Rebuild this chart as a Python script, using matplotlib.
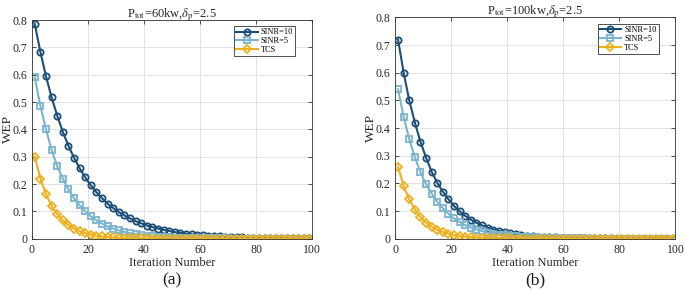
import matplotlib
matplotlib.use('Agg')
import matplotlib.pyplot as plt

plt.rcParams['font.family'] = ['Liberation Serif', 'DejaVu Serif']
plt.rcParams['mathtext.fontset'] = 'stix'

iters = list(range(1, 100, 2))

# (a) Ptot=60kw
a_sinr10 = [0.785, 0.683, 0.594, 0.517, 0.450, 0.391, 0.340, 0.296, 0.258, 0.224,
            0.195, 0.170, 0.148, 0.128, 0.112, 0.097, 0.085, 0.074, 0.064, 0.056,
            0.048, 0.042, 0.037, 0.032, 0.028, 0.024, 0.021, 0.018, 0.016, 0.014,
            0.012, 0.011, 0.009, 0.008, 0.007, 0.006, 0.005, 0.0045, 0.004, 0.0035,
            0.003, 0.0026, 0.0023, 0.002, 0.0017, 0.0015, 0.0013, 0.0011, 0.001, 0.0009]
a_sinr5 = [0.590, 0.485, 0.400, 0.325, 0.265, 0.220, 0.180, 0.148, 0.122, 0.100,
           0.082, 0.067, 0.055, 0.045, 0.037, 0.030, 0.025, 0.020, 0.017, 0.014,
           0.011, 0.009, 0.0075, 0.006, 0.005, 0.004, 0.0033, 0.0027, 0.0022, 0.0018,
           0.0015, 0.0012, 0.001, 0.0008, 0.0007, 0.0006, 0.0005, 0.0004, 0.0003, 0.0003,
           0.0002, 0.0002, 0.0002, 0.0001, 0.0001, 0.0001, 0.0001, 0.0001, 0.0, 0.0]
a_tcs = [0.300, 0.220, 0.163, 0.120, 0.090, 0.067, 0.050, 0.037, 0.028, 0.020,
         0.015, 0.011, 0.008, 0.006, 0.0045, 0.003, 0.0025, 0.0018, 0.0013, 0.001,
         0.0008, 0.0006, 0.0004, 0.0003, 0.0002, 0.0002, 0.0001, 0.0001, 0.0001, 0.0,
         0.0, 0.0, 0.0, 0.0, 0.0, 0.0, 0.0, 0.0, 0.0, 0.0,
         0.0, 0.0, 0.0, 0.0, 0.0, 0.0, 0.0, 0.0, 0.0, 0.0]

# (b) Ptot=100kw
b_sinr10 = [0.720, 0.600, 0.500, 0.420, 0.350, 0.293, 0.242, 0.202, 0.170, 0.142,
            0.118, 0.099, 0.082, 0.069, 0.057, 0.048, 0.040, 0.033, 0.028, 0.023,
            0.019, 0.016, 0.013, 0.011, 0.009, 0.0075, 0.0063, 0.0052, 0.0044, 0.0036,
            0.003, 0.0025, 0.0021, 0.0017, 0.0014, 0.0012, 0.001, 0.0008, 0.0007, 0.0006,
            0.0005, 0.0004, 0.0003, 0.0003, 0.0002, 0.0002, 0.0002, 0.0001, 0.0001, 0.0001]
b_sinr5 = [0.540, 0.440, 0.360, 0.295, 0.240, 0.197, 0.163, 0.133, 0.110, 0.090,
           0.073, 0.060, 0.049, 0.040, 0.033, 0.027, 0.022, 0.018, 0.015, 0.012,
           0.010, 0.008, 0.0065, 0.0053, 0.0044, 0.0036, 0.003, 0.0024, 0.002, 0.0016,
           0.0013, 0.0011, 0.0009, 0.0007, 0.0006, 0.0005, 0.0004, 0.0003, 0.0003, 0.0002,
           0.0002, 0.0002, 0.0001, 0.0001, 0.0001, 0.0001, 0.0, 0.0, 0.0, 0.0]
b_tcs = [0.260, 0.190, 0.142, 0.105, 0.078, 0.058, 0.043, 0.032, 0.024, 0.018,
         0.013, 0.010, 0.007, 0.0053, 0.004, 0.003, 0.0022, 0.0016, 0.0012, 0.0009,
         0.0007, 0.0005, 0.0004, 0.0003, 0.0002, 0.0002, 0.0001, 0.0001, 0.0, 0.0,
         0.0, 0.0, 0.0, 0.0, 0.0, 0.0, 0.0, 0.0, 0.0, 0.0,
         0.0, 0.0, 0.0, 0.0, 0.0, 0.0, 0.0, 0.0, 0.0, 0.0]

titles = [r'P$_{\mathrm{tot}}$=60kw,$\delta_{\mathrm{p}}$=2.5',
          r'P$_{\mathrm{tot}}$=100kw,$\delta_{\mathrm{p}}$=2.5']
panel_labels = ['(a)', '(b)']
series_names = ['SINR=10', 'SINR=5', 'TCS']
colors = ['#1b4f77', '#7ab4cf', '#edb120']
markers = ['o', 's', 'D']

fig = plt.figure(figsize=(6.85, 2.9), dpi=100)
ax1 = fig.add_axes([0.0467, 0.177, 0.409, 0.754])
ax2 = fig.add_axes([0.577, 0.177, 0.409, 0.763])

data = [(a_sinr10, a_sinr5, a_tcs), (b_sinr10, b_sinr5, b_tcs)]
for ax, ys, title, lab in zip([ax1, ax2], data, titles, panel_labels):
    for y, c, m, name in zip(ys, colors, markers, series_names):
        ax.plot(iters, y, color=c, marker=m, markersize=4.5 if m != 'D' else 4,
                markerfacecolor='none', markeredgewidth=1.3, linewidth=1.5, label=name)
    ax.set_xlim(0, 100)
    ax.set_ylim(0, 0.8)
    ax.set_xticks([0, 20, 40, 60, 80, 100])
    ax.set_yticks([0, 0.1, 0.2, 0.3, 0.4, 0.5, 0.6, 0.7, 0.8])
    ax.set_yticklabels(['0', '0.1', '0.2', '0.3', '0.4', '0.5', '0.6', '0.7', '0.8'])
    ax.grid(True, color='#e3e3e3', linewidth=0.7)
    ax.set_axisbelow(True)
    ax.tick_params(direction='in', top=True, right=True, labelsize=8.5,
                   length=3, width=0.6, colors='#333333', labelcolor='#262626')
    for s in ax.spines.values():
        s.set_color('#333333')
        s.set_linewidth(0.6)
    ax.set_xlabel('Iteration Number', fontsize=9, labelpad=1, color='#262626')
    ax.set_ylabel('WEP', fontsize=9.5, color='#262626')
    ax.yaxis.set_label_coords(-0.066, 0.5)
    ax.set_title(title, fontsize=9, pad=2, color='#262626')
    leg = ax.legend(loc='upper right', fontsize=6, handlelength=2.6,
                    borderpad=0.25, labelspacing=0.1, handletextpad=0.35,
                    fancybox=False, framealpha=1, edgecolor='#333333',
                    bbox_to_anchor=(0.955, 0.99))
    leg.get_frame().set_linewidth(0.6)
    ax.text(0.5, -0.189, lab, transform=ax.transAxes, ha='center', va='center',
            fontsize=12.5, color='#1a1a1a')

fig.savefig('out.png', dpi=100)
